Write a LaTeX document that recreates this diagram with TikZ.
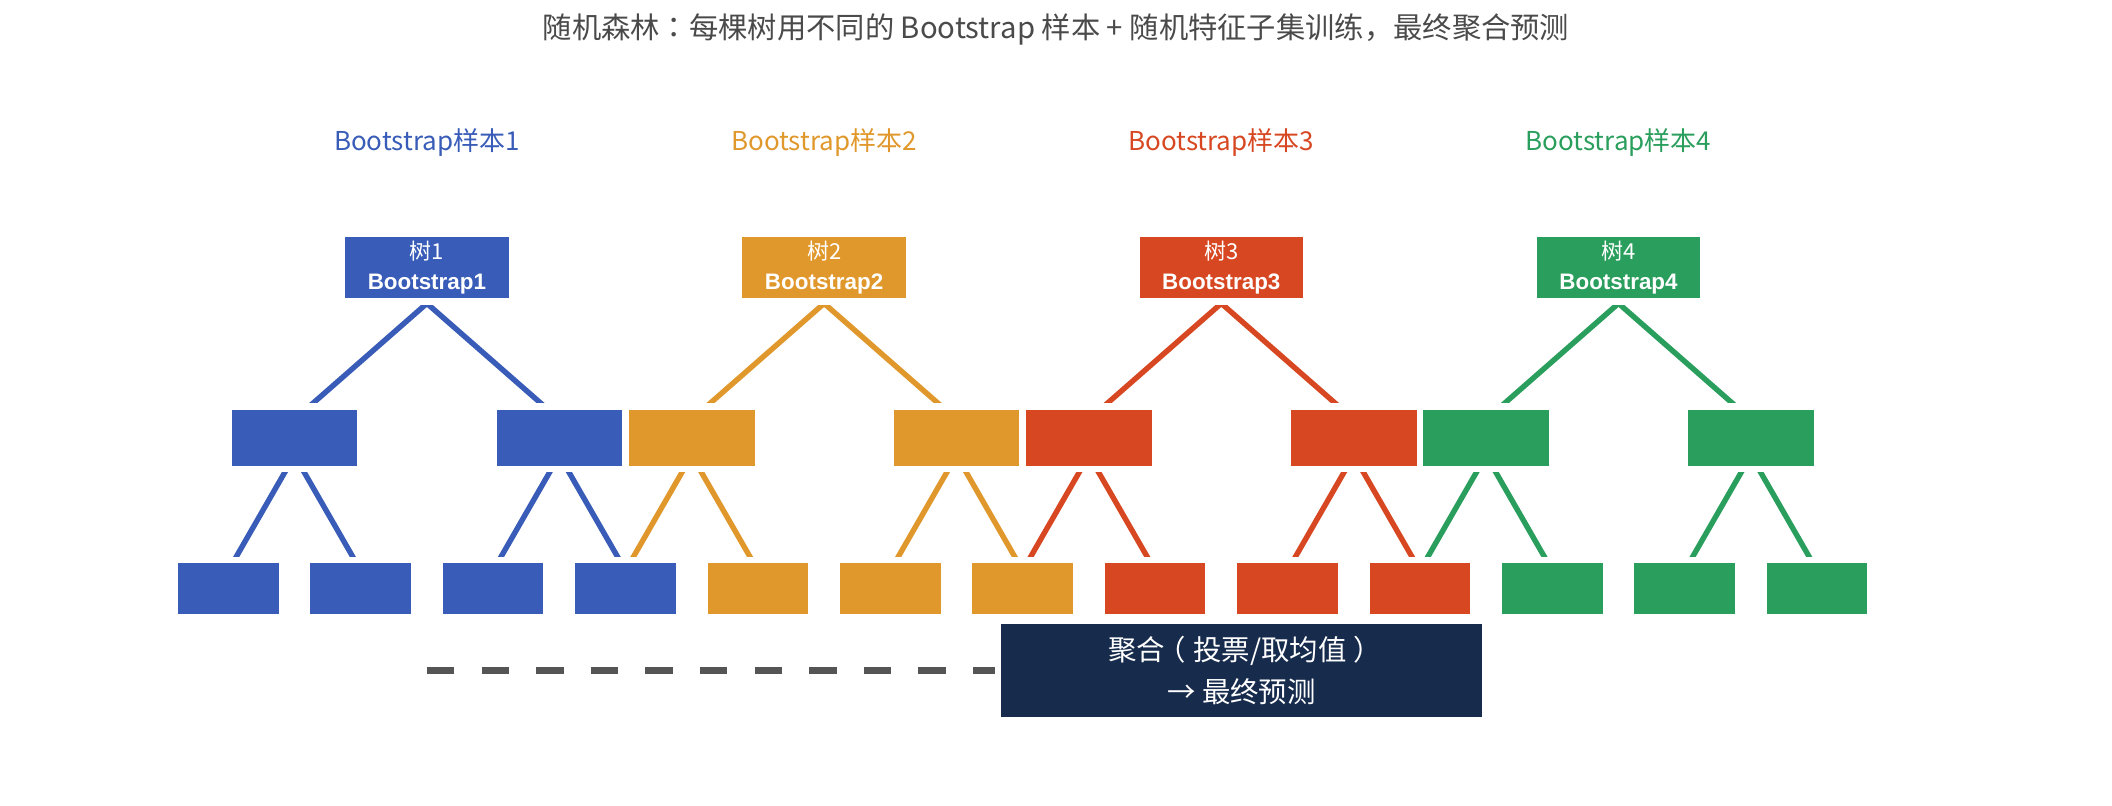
\documentclass[tikz,border=0pt]{standalone}
\usepackage{fontspec}
\setmainfont{Noto Sans CJK SC}
\newfontfamily\tcfont{Noto Sans CJK TC}
\newfontfamily\libfont{Liberation Sans}
\newcommand\lpar{\kern-0.25em（\kern0.25em}
\newcommand\rpar{\kern0.25em）\kern-0.25em}
\usetikzlibrary{calc}
\pgfdeclarelayer{bg}
\pgfsetlayers{bg,main}
\definecolor{cA}{HTML}{385CB7}
\definecolor{cB}{HTML}{E0982C}
\definecolor{cC}{HTML}{D74822}
\definecolor{cD}{HTML}{2A9E5C}
\definecolor{navy}{HTML}{172B4D}
\definecolor{titlegray}{HTML}{4A4A4A}
\definecolor{dashgray}{HTML}{555555}
\begin{document}
\begin{tikzpicture}[x=0.5pt,y=-0.5pt,
  halo/.style={preaction={draw=white,line width=6.5pt}},
  rootbox/.style={halo,fill=#1,inner sep=0pt,minimum width=81.7pt,minimum height=30.5pt,
    text=white,align=center,font=\fontsize{11pt}{14.85pt}\selectfont},
  midbox/.style={halo,fill=#1,inner sep=0pt,minimum width=62.8pt,minimum height=28pt},
  leafbox/.style={halo,fill=#1,inner sep=0pt,minimum width=50.25pt,minimum height=25.5pt},
  aggbox/.style={halo,fill=navy,inner sep=0pt,minimum width=240.5pt,minimum height=46.2pt,
    text=white,align=center,font=\fontsize{14.2pt}{20.85pt}\selectfont},
  samplelab/.style={inner sep=0pt,text=#1,font=\fontsize{13pt}{15pt}\selectfont},
  titlelab/.style={inner sep=0pt,text=titlegray,font=\fontsize{14.65pt}{16pt}\selectfont},
  tline/.style={draw=#1,line width=2.7pt,line join=miter},
  dashline/.style={draw=dashgray,line width=3.5pt,dash pattern=on 13.7pt off 13.6pt}
]
\useasboundingbox (0,0) rectangle (2112,806);

\node[titlelab] (title) at (1056,29) {随机森林{\tcfont ：}每棵树用不同的 Bootstrap 样本 + 随机特征子集训练，最终聚合预测};

% leaves
\foreach \i/\c in {0/cA,1/cA,2/cA,3/cA,4/cB,5/cB,6/cB,7/cC,8/cC,9/cC,10/cD,11/cD,12/cD} {
  \node[leafbox=\c] (l\i) at ({228.3+132.4*\i},588.8) {};
}

% trees
\foreach \k/\c in {0/cA,1/cB,2/cC,3/cD} {
  \pgfmathsetmacro\R{426.9+397.2*\k}
  \pgfmathtruncatemacro\n{\k+1}
  \node[samplelab=\c] (s\k) at (\R,143) {Bootstrap样本\n};
  \node[rootbox=\c] (r\k) at (\R,267.8) {树\n\\{\libfont\bfseries\fontsize{11.2pt}{14.85pt}\selectfont Bootstrap\n}};
  \node[midbox=\c] (a\k) at ({\R-132.4},437.7) {};
  \node[midbox=\c] (b\k) at ({\R+132.4},437.7) {};
}

\node[aggbox] (agg) at (1241.5,670.5) {聚合\lpar 投票/取均值\rpar\\→ 最终预测};
\coordinate (dstart) at (427,670.3);

\begin{pgfonlayer}{bg}
\foreach \k/\c in {0/cA,1/cB,2/cC,3/cD} {
  \pgfmathtruncatemacro\p{3*\k}
  \pgfmathtruncatemacro\q{3*\k+1}
  \pgfmathtruncatemacro\u{3*\k+2}
  \pgfmathtruncatemacro\v{3*\k+3}
  \draw[tline=\c] ($(a\k.north)+(4.4,6.3)$) -- ($(r\k.south)+(0,4.7)$) -- ($(b\k.north)+(-4.4,6.3)$);
  \draw[tline=\c] ($(a\k.south)+(0,-10.7)$) -- ($(l\p.north)+(0,7.7)$);
  \draw[tline=\c] ($(a\k.south)+(0,-10.7)$) -- ($(l\q.north)+(0,7.7)$);
  \draw[tline=\c] ($(b\k.south)+(0,-10.7)$) -- ($(l\u.north)+(0,7.7)$);
  \draw[tline=\c] ($(b\k.south)+(0,-10.7)$) -- ($(l\v.north)+(0,7.7)$);
}
\draw[dashline] (dstart) -- (dstart -| agg.center);
\end{pgfonlayer}
\end{tikzpicture}
\end{document}
